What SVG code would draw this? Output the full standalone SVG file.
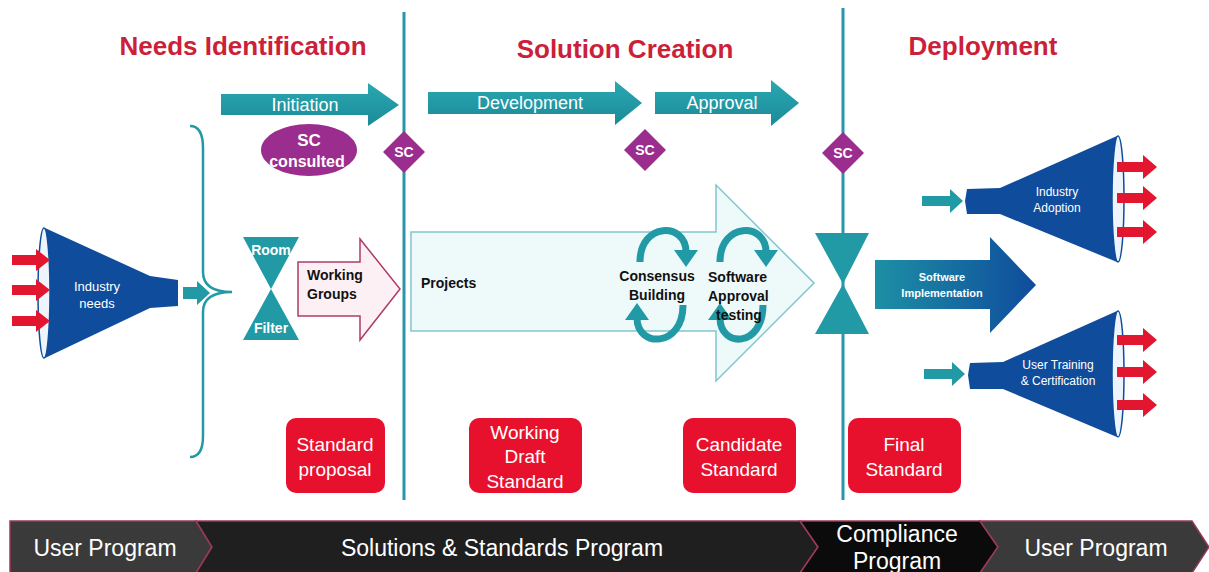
<svg xmlns="http://www.w3.org/2000/svg" width="1209" height="572" viewBox="0 0 1209 572">
<style>
.title{font-family:"Liberation Sans",Arial,sans-serif;font-weight:bold;font-size:26px;fill:#cc1f3a;text-anchor:middle}
.wt{font-family:"Liberation Sans",Arial,sans-serif;fill:#fff;text-anchor:middle}
.bk{font-family:"Liberation Sans",Arial,sans-serif;fill:#111;font-weight:bold;font-size:14px}
.teal{fill:#219aa5}
.redbox{fill:#e8112d}
.band{font-family:"Liberation Sans",Arial,sans-serif;fill:#fff;font-size:23px;text-anchor:middle}
.funnel{fill:#0f4c9c}
.red{fill:#e2162f}
.sc{fill:#9b2d8e}
.vline{stroke:#2b94ad;stroke-width:3}
.loop{fill:none;stroke:#219aa5;stroke-width:7}
</style>
<defs>
<linearGradient id="gTeal" x1="0" y1="0" x2="0" y2="1">
<stop offset="0" stop-color="#2aa8b2"/><stop offset="1" stop-color="#1a8b98"/>
</linearGradient>
<linearGradient id="gImpl" x1="0" y1="0" x2="1" y2="0">
<stop offset="0" stop-color="#1d8fa5"/><stop offset="1" stop-color="#0f4c9c"/>
</linearGradient>
</defs>
<rect width="1209" height="572" fill="#fff"/>

<g id="titles">
<text class="title" x="243" y="55">Needs Identification</text>
<text class="title" x="625" y="58">Solution Creation</text>
<text class="title" x="983" y="55">Deployment</text>
</g>

<g id="connectors">
<line class="vline" x1="404" y1="12" x2="404" y2="500"/>
<line class="vline" x1="843" y1="8" x2="843" y2="500"/>
<path d="M190,126 Q203,126 203,148 L203,272 Q203,292 232,292 Q203,292 203,312 L203,436 Q203,457 190,457" fill="none" stroke="#219aa5" stroke-width="2.5"/>
<polygon class="teal" points="183,287 197,287 197,281 210,293 197,305 197,299 183,299"/>
<polygon class="teal" points="922,196 950,196 950,189 963,201 950,213 950,206 922,206"/>
<polygon class="teal" points="924,369 952,369 952,362 965,374 952,386 952,379 924,379"/>
</g>

<g id="initiation"><polygon fill="url(#gTeal)" points="221,94 368,94 368,83 399,105 368,126 368,115 221,115"/><text class="wt" x="305" y="111" font-size="18">Initiation</text></g>
<g id="development"><polygon fill="url(#gTeal)" points="428,92 615,92 615,81 642,103 615,125 615,114 428,114"/><text class="wt" x="530" y="109" font-size="18">Development</text></g>
<g id="approval"><polygon fill="url(#gTeal)" points="655,92 771,92 771,80 799,103 771,126 771,114 655,114"/><text class="wt" x="722" y="109" font-size="18">Approval</text></g>

<g id="sc-consulted"><ellipse class="sc" cx="309" cy="150" rx="48" ry="26"/><text class="wt" x="309" y="146" font-size="17" font-weight="bold">SC</text><text class="wt" x="307" y="167" font-size="16" font-weight="bold">consulted</text></g>
<g id="sc1"><polygon class="sc" points="404,131 425,152 404,173 383,152"/><text class="wt" x="404" y="157" font-size="14" font-weight="bold">SC</text></g>
<g id="sc2"><polygon class="sc" points="645,129 666,150 645,171 624,150"/><text class="wt" x="645" y="155" font-size="14" font-weight="bold">SC</text></g>
<g id="sc3"><polygon class="sc" points="843,132 864,153 843,174 822,153"/><text class="wt" x="843" y="158" font-size="14" font-weight="bold">SC</text></g>

<g id="industry-needs">
<path class="funnel" d="M45,228 L150,276 L178,280 L178,306 L150,308 L45,358 Z"/>
<ellipse cx="44" cy="293" rx="6" ry="65" fill="#eef4fb" stroke="#0f4c9c" stroke-width="1.5"/>
<polygon class="red" points="12,255 36,255 36,249 50,260 36,271 36,265 12,265"/>
<polygon class="red" points="12,285 36,285 36,279 50,290 36,301 36,295 12,295"/>
<polygon class="red" points="12,316 36,316 36,310 50,321 36,332 36,326 12,326"/>
<text class="wt" x="97" y="291" font-size="13">Industry</text>
<text class="wt" x="97" y="308" font-size="13">needs</text>
</g>

<g id="room-filter">
<polygon class="teal" points="243,237 299,237 271,289 299,340 243,340 271,289"/>
<text class="wt" x="271" y="255" font-size="14" font-weight="bold">Room</text>
<text class="wt" x="271" y="333" font-size="14" font-weight="bold">Filter</text>
</g>

<g id="working-groups">
<polygon points="298,262 360,262 360,239 400,289 360,340 360,316 298,316" fill="#fdf0f5" stroke="#b03a6a" stroke-width="1.5"/>
<text class="bk" x="307" y="280" font-size="15">Working</text>
<text class="bk" x="307" y="299" font-size="15">Groups</text>
</g>

<g id="projects">
<polygon points="411,232 716,232 716,185 814,283 716,381 716,331 411,331" fill="#eef9fa" stroke="#80c6cd" stroke-width="1.5"/>
<text class="bk" x="421" y="288" font-size="15">Projects</text>
<path class="loop" d="M640,262 C640,222 686,222 686,252"/>
<polygon class="teal" points="674,250 698,250 686,267"/>
<path class="loop" d="M683,305 C683,348 637,348 637,318"/>
<polygon class="teal" points="625,320 649,320 637,303"/>
<path class="loop" d="M720,262 C720,222 766,222 766,252"/>
<polygon class="teal" points="754,250 778,250 766,267"/>
<path class="loop" d="M763,305 C763,348 720,348 720,318"/>
<polygon class="teal" points="708,320 732,320 720,303"/>
<text class="bk" x="657" y="281" text-anchor="middle">Consensus</text>
<text class="bk" x="657" y="300" text-anchor="middle">Building</text>
<text class="bk" x="708" y="282">Software</text>
<text class="bk" x="708" y="301">Approval</text>
<text class="bk" x="716" y="320">testing</text>
</g>

<g id="gate">
<polygon class="teal" points="815,233 869,233 843,284 869,334 815,334 843,284"/>
</g>

<g id="software-implementation">
<polygon fill="url(#gImpl)" points="875,260 990,260 990,237 1036,285 990,333 990,309 875,309"/>
<text class="wt" x="942" y="281" font-size="11" font-weight="bold">Software</text>
<text class="wt" x="942" y="297" font-size="11" font-weight="bold">Implementation</text>
</g>

<g id="industry-adoption">
<path class="funnel" d="M1117,136 L1000,188 L967,189 L965,201 L967,214 L1000,214 L1117,262 Z"/>
<ellipse cx="1118" cy="199" rx="6" ry="63" fill="#eef4fb" stroke="#0f4c9c" stroke-width="1.5"/>
<polygon class="red" points="1117,162 1143,162 1143,155 1157,167 1143,179 1143,172 1117,172"/>
<polygon class="red" points="1117,193 1143,193 1143,186 1157,198 1143,210 1143,203 1117,203"/>
<polygon class="red" points="1117,227 1143,227 1143,220 1157,232 1143,244 1143,237 1117,237"/>
<text class="wt" x="1057" y="196" font-size="12">Industry</text>
<text class="wt" x="1057" y="212" font-size="12">Adoption</text>
</g>

<g id="user-training">
<path class="funnel" d="M1117,311 L1003,362 L970,363 L968,375 L970,389 L1003,389 L1117,437 Z"/>
<ellipse cx="1118" cy="374" rx="6" ry="63" fill="#eef4fb" stroke="#0f4c9c" stroke-width="1.5"/>
<polygon class="red" points="1117,335 1143,335 1143,328 1157,340 1143,352 1143,345 1117,345"/>
<polygon class="red" points="1117,367 1143,367 1143,360 1157,372 1143,384 1143,377 1117,377"/>
<polygon class="red" points="1117,400 1143,400 1143,393 1157,405 1143,417 1143,410 1117,410"/>
<text class="wt" x="1058" y="369" font-size="12">User Training</text>
<text class="wt" x="1058" y="385" font-size="12">&amp; Certification</text>
</g>

<g id="standard-proposal"><rect class="redbox" x="286" y="418" width="99" height="75" rx="10"/><text class="wt" x="335" y="451" font-size="19">Standard</text><text class="wt" x="335" y="476" font-size="19">proposal</text></g>
<g id="working-draft"><rect class="redbox" x="469" y="418" width="113" height="75" rx="10"/><text class="wt" x="525" y="439" font-size="19">Working</text><text class="wt" x="525" y="463" font-size="19">Draft</text><text class="wt" x="525" y="488" font-size="19">Standard</text></g>
<g id="candidate-standard"><rect class="redbox" x="683" y="418" width="113" height="75" rx="10"/><text class="wt" x="739" y="451" font-size="19">Candidate</text><text class="wt" x="739" y="476" font-size="19">Standard</text></g>
<g id="final-standard"><rect class="redbox" x="848" y="418" width="113" height="75" rx="10"/><text class="wt" x="904" y="451" font-size="19">Final</text><text class="wt" x="904" y="476" font-size="19">Standard</text></g>

<g id="program-band" stroke="#9a3a58" stroke-width="1.5">
<polygon points="10,521 196,521 212,547 196,573 10,573" fill="#3a3a3a"/>
<polygon points="196,521 800,521 818,547 800,573 196,573 212,547" fill="#1f1f1f"/>
<polygon points="800,521 980,521 998,547 980,573 800,573 818,547" fill="#0b0b0b"/>
<polygon points="980,521 1192,521 1209,547 1192,573 980,573 998,547" fill="#3a3a3a"/>
</g>
<g id="band-labels">
<text class="band" x="105" y="556">User Program</text>
<text class="band" x="502" y="556">Solutions &amp; Standards Program</text>
<text class="band" x="897" y="542" font-size="21">Compliance</text>
<text class="band" x="897" y="569" font-size="21">Program</text>
<text class="band" x="1096" y="556">User Program</text>
</g>
</svg>
